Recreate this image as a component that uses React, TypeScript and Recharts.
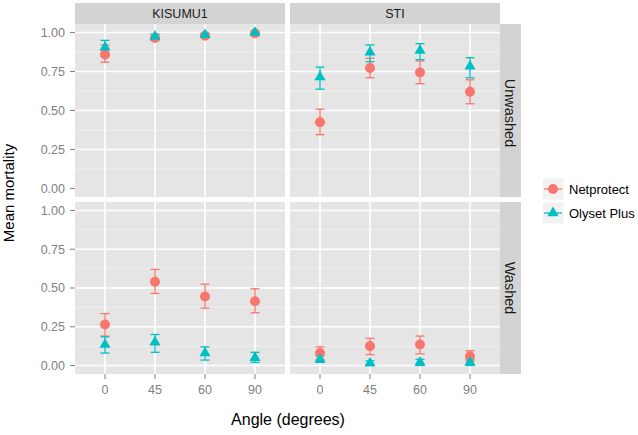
import { CartesianGrid, ErrorBar, Scatter, ScatterChart, XAxis, YAxis } from "recharts"

const angles = ["0", "45", "60", "90"]
const yTicks = [0, 0.25, 0.5, 0.75, 1]
const yMinor = [0.125, 0.375, 0.625, 0.875]
const sites = ["KISUMU1", "STI"]
const washes = ["Unwashed", "Washed"]
const seriesNames = ["Netprotect", "Olyset Plus"]

// mean mortality and [low, high] interval per angle
const kisumuUnwashedNet = [0.86, 0.965, 0.98, 0.995]
const kisumuUnwashedNetCI = [[0.81, 0.92], [0.95, 0.985], [0.97, 0.99], [0.99, 1.0]]
const kisumuUnwashedOly = [0.905, 0.975, 0.985, 1.0]
const kisumuUnwashedOlyCI = [[0.86, 0.95], [0.955, 0.99], [0.975, 0.995], [0.995, 1.0]]

const stiUnwashedNet = [0.425, 0.773, 0.744, 0.62]
const stiUnwashedNetCI = [[0.345, 0.509], [0.71, 0.835], [0.672, 0.818], [0.543, 0.697]]
const stiUnwashedOly = [0.715, 0.873, 0.884, 0.783]
const stiUnwashedOlyCI = [[0.637, 0.779], [0.813, 0.921], [0.826, 0.929], [0.71, 0.839]]

const kisumuWashedNet = [0.265, 0.54, 0.445, 0.415]
const kisumuWashedNetCI = [[0.19, 0.335], [0.465, 0.62], [0.37, 0.525], [0.34, 0.495]]
const kisumuWashedOly = [0.135, 0.15, 0.08, 0.05]
const kisumuWashedOlyCI = [[0.08, 0.185], [0.085, 0.2], [0.035, 0.12], [0.02, 0.085]]

const stiWashedNet = [0.08, 0.125, 0.135, 0.06]
const stiWashedNetCI = [[0.04, 0.12], [0.07, 0.175], [0.075, 0.19], [0.03, 0.095]]
const stiWashedOly = [0.04, 0.015, 0.02, 0.02]
const stiWashedOlyCI = [[0.02, 0.06], [0.0, 0.03], [0.0, 0.04], [0.0, 0.04]]

const RED = "#F8766D"
const TEAL = "#00BFC4"
const FONT = "'Liberation Sans', Arial, sans-serif"

function rows(means: number[], ci: number[][]) {
  return means.map((m, i) => ({ x: i, y: m, err: [m - ci[i][0], ci[i][1] - m] }))
}

const Dot = (p: any) => <circle cx={p.cx} cy={p.cy} r={5} fill={RED} />
const Tri = (p: any) => (
  <polygon
    points={`${p.cx},${p.cy - 6.4} ${p.cx - 5.6},${p.cy + 3.2} ${p.cx + 5.6},${p.cy + 3.2}`}
    fill={TEAL}
  />
)

const tickStyle = { fill: "#7f7f7f", fontSize: 12.5, fontFamily: FONT }

interface PanelProps {
  left: number
  top: number
  plotHeight: number
  showX: boolean
  showY: boolean
  net: { x: number; y: number; err: number[] }[]
  oly: { x: number; y: number; err: number[] }[]
}

function Panel({ left, top, plotHeight, showX, showY, net, oly }: PanelProps) {
  const w = 210 + (showY ? 75 : 0)
  const h = plotHeight + (showX ? 30 : 0)
  return (
    <div style={{ position: "absolute", left: showY ? left - 75 : left, top }}>
      <ScatterChart width={w} height={h} margin={{ top: 0, right: 0, bottom: 0, left: 0 }}>
        <CartesianGrid
          fill="#e5e5e5"
          fillOpacity={1}
          stroke="#f2f2f2"
          strokeWidth={0.8}
          vertical={false}
          horizontalValues={yMinor}
        />
        <CartesianGrid stroke="#ffffff" strokeWidth={1.6} horizontalValues={yTicks} verticalValues={[0, 1, 2, 3]} />
        <XAxis
          type="number"
          dataKey="x"
          domain={[-0.6, 3.6]}
          ticks={[0, 1, 2, 3]}
          tickFormatter={(v: number) => angles[v]}
          hide={!showX}
          height={30}
          axisLine={false}
          tickSize={5}
          tickMargin={6}
          tickLine={{ stroke: "#7f7f7f" }}
          tick={tickStyle}
          allowDataOverflow
        />
        <YAxis
          type="number"
          dataKey="y"
          domain={[-0.055, 1.055]}
          ticks={yTicks}
          tickFormatter={(v: number) => v.toFixed(2)}
          hide={!showY}
          width={75}
          axisLine={false}
          tickSize={5}
          tickMargin={5}
          tickLine={{ stroke: "#7f7f7f" }}
          tick={tickStyle}
          allowDataOverflow
        />
        <Scatter data={net} shape={Dot} isAnimationActive={false}>
          <ErrorBar dataKey="err" direction="y" width={4.5} stroke={RED} strokeWidth={1.3} />
        </Scatter>
        <Scatter data={oly} shape={Tri} isAnimationActive={false}>
          <ErrorBar dataKey="err" direction="y" width={4.5} stroke={TEAL} strokeWidth={1.3} />
        </Scatter>
      </ScatterChart>
    </div>
  )
}

export default function App() {
  return (
    <div
      style={{
        position: "absolute",
        left: 0,
        top: 0,
        width: 638,
        height: 435,
        background: "#ffffff",
        fontFamily: FONT,
        overflow: "hidden",
      }}
    >
      <svg width={638} height={435} style={{ position: "absolute", left: 0, top: 0 }}>
        {/* facet strips */}
        <rect x={75} y={3} width={210} height={21} fill="#d3d3d3" />
        <rect x={290} y={3} width={210} height={21} fill="#d3d3d3" />
        <rect x={500} y={24} width={21} height={173} fill="#d3d3d3" />
        <rect x={500} y={202} width={21} height={172} fill="#d3d3d3" />
        <text x={180} y={18} textAnchor="middle" fontSize={12.5} fill="#1a1a1a">{sites[0]}</text>
        <text x={395} y={18} textAnchor="middle" fontSize={12.5} fill="#1a1a1a">{sites[1]}</text>
        <text x={505} y={113} transform="rotate(90 505 113)" textAnchor="middle" fontSize={14.5} fill="#1a1a1a">
          {washes[0]}
        </text>
        <text x={505} y={288} transform="rotate(90 505 288)" textAnchor="middle" fontSize={14.5} fill="#1a1a1a">
          {washes[1]}
        </text>
        {/* axis titles */}
        <text x={14} y={193} transform="rotate(-90 14 193)" textAnchor="middle" fontSize={15} fill="#000">
          Mean mortality
        </text>
        <text x={288} y={425} textAnchor="middle" fontSize={16} fill="#000">Angle (degrees)</text>
        {/* legend */}
        <rect x={542} y={178} width={22} height={22} fill="#f2f2f2" stroke="#fff" />
        <line x1={544} y1={189} x2={562} y2={189} stroke={RED} strokeWidth={1.3} />
        <circle cx={553} cy={189} r={5} fill={RED} />
        <text x={569} y={194} fontSize={13} fill="#000">{seriesNames[0]}</text>
        <rect x={542} y={202} width={22} height={22} fill="#f2f2f2" stroke="#fff" />
        <line x1={544} y1={213} x2={562} y2={213} stroke={TEAL} strokeWidth={1.3} />
        <polygon points="553,206.6 547.4,216.2 558.6,216.2" fill={TEAL} />
        <text x={569} y={218} fontSize={13} fill="#000">{seriesNames[1]}</text>
      </svg>
      <Panel
        left={75}
        top={24}
        plotHeight={173}
        showX={false}
        showY
        net={rows(kisumuUnwashedNet, kisumuUnwashedNetCI)}
        oly={rows(kisumuUnwashedOly, kisumuUnwashedOlyCI)}
      />
      <Panel
        left={290}
        top={24}
        plotHeight={173}
        showX={false}
        showY={false}
        net={rows(stiUnwashedNet, stiUnwashedNetCI)}
        oly={rows(stiUnwashedOly, stiUnwashedOlyCI)}
      />
      <Panel
        left={75}
        top={202}
        plotHeight={172}
        showX
        showY
        net={rows(kisumuWashedNet, kisumuWashedNetCI)}
        oly={rows(kisumuWashedOly, kisumuWashedOlyCI)}
      />
      <Panel
        left={290}
        top={202}
        plotHeight={172}
        showX
        showY={false}
        net={rows(stiWashedNet, stiWashedNetCI)}
        oly={rows(stiWashedOly, stiWashedOlyCI)}
      />
    </div>
  )
}
